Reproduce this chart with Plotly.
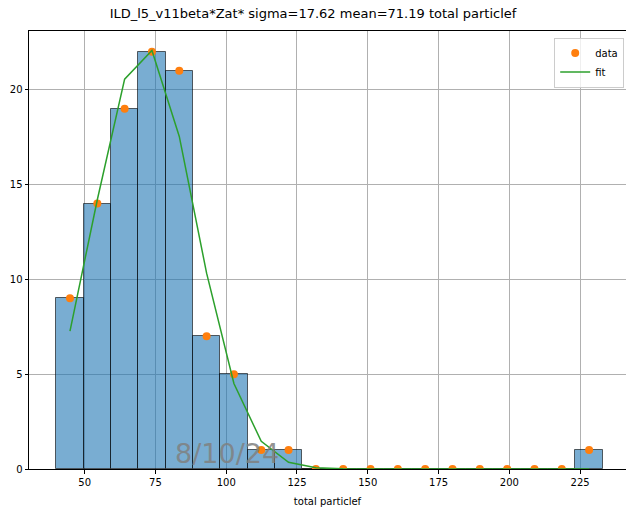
import numpy as np
import plotly.graph_objects as go

# Data
bin_lo = 40.0
bin_hi = 233.0
n_bins = 20
counts = [9, 14, 19, 22, 21, 7, 5, 1, 1, 0, 0, 0, 0, 0, 0, 0, 0, 0, 0, 1]
fit_vals = [7.27, 14.2, 20.56, 22.07, 17.54, 10.33, 4.51, 1.46, 0.35, 0.06,
            0.01, 0.0, 0.0, 0.0, 0.0, 0.0, 0.0, 0.0, 0.0, 0.0]
title_text = "ILD_l5_v11beta*Zat* sigma=17.62 mean=71.19 total particlef"
xlabel = "total particlef"
watermark = "8/10/24"
xticks = [50, 75, 100, 125, 150, 175, 200, 225]
yticks = [0, 5, 10, 15, 20]

edges = np.linspace(bin_lo, bin_hi, n_bins + 1)
centers = (edges[:-1] + edges[1:]) / 2
width = edges[1] - edges[0]

fig = go.Figure()
fig.add_trace(go.Bar(
    x=centers, y=counts, width=width,
    marker=dict(color="rgba(31,119,180,0.6)", line=dict(color="rgba(0,0,0,0.6)", width=1)),
    showlegend=False, hoverinfo="skip"))
fig.add_trace(go.Scatter(
    x=centers, y=counts, mode="markers", name="data",
    marker=dict(color="#ff7f0e", size=8)))
fig.add_trace(go.Scatter(
    x=centers, y=fit_vals, mode="lines", name="fit",
    line=dict(color="#2ca02c", width=1.5)))

font = "DejaVu Sans"
fig.update_layout(
    width=626, height=510,
    margin=dict(l=29, r=0, t=31, b=41),
    plot_bgcolor="white", paper_bgcolor="white",
    font=dict(family=font, size=10, color="black"),
    title=dict(text=title_text, x=0.5, xanchor="center", y=1 - 13 / 510, yref="container",
               yanchor="middle", font=dict(family=font, size=13, color="black")),
    bargap=0,
    legend=dict(x=0.997, y=0.985, xanchor="right", yanchor="top", itemwidth=30,
                bgcolor="rgba(255,255,255,0.8)", bordercolor="#cccccc", borderwidth=1,
                font=dict(family=font, size=10)),
    xaxis=dict(range=[30.35, 241.2], tickvals=xticks, showgrid=True, gridcolor="#b0b0b0",
               gridwidth=1, showline=True, linecolor="black", linewidth=1, mirror=True,
               ticks="outside", ticklen=3.5, tickcolor="black", zeroline=False,
               title=dict(text=xlabel, font=dict(family=font, size=10), standoff=11)),
    yaxis=dict(range=[0, 23.1], tickvals=yticks, showgrid=True, gridcolor="#b0b0b0",
               gridwidth=1, showline=True, linecolor="black", linewidth=1, mirror=True,
               ticks="outside", ticklen=3.5, tickcolor="black", zeroline=False),
    annotations=[dict(text=watermark, x=(227 - 29) / 597, y=(510 - 41 - 453) / 438,
                      xref="paper", yref="paper", showarrow=False,
                      xanchor="center", yanchor="middle",
                      font=dict(family=font, size=27, color="rgba(128,128,128,0.85)"))],
)

fig.write_html("out.html")
